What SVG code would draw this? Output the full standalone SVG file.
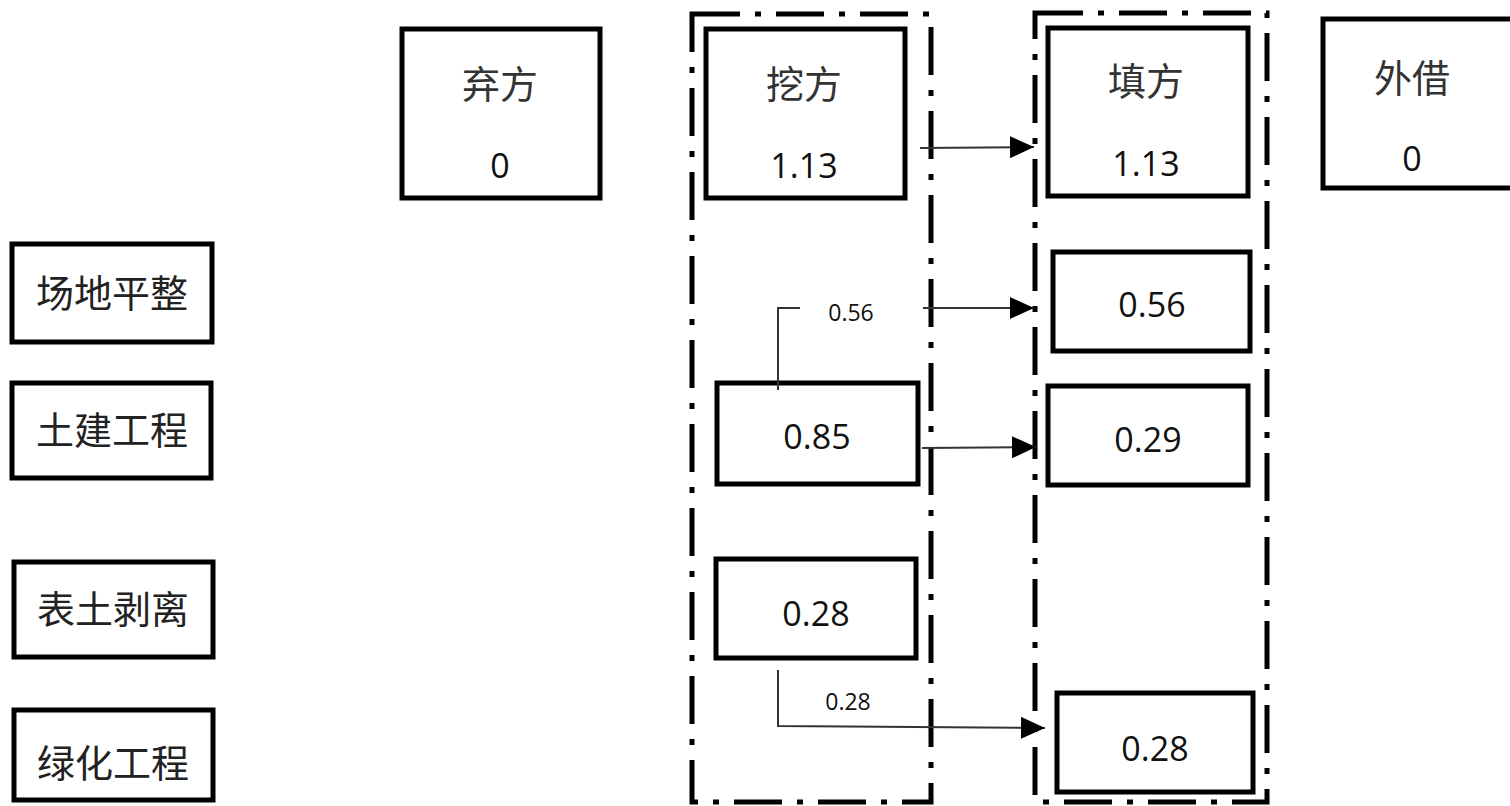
<svg xmlns="http://www.w3.org/2000/svg" width="1510" height="806" viewBox="0 0 1510 806">
<style>
.box{fill:#fff;stroke:#000;stroke-width:5}
.grp{fill:none;stroke:#000;stroke-width:5;stroke-dasharray:48 15 6 15}
.cn{font-family:"Noto Sans CJK SC","Noto Sans",sans-serif;font-size:38px;fill:#222;text-anchor:middle}
.cns{font-family:"Noto Sans CJK SC",sans-serif;font-size:38px;fill:#333;text-anchor:middle}
.num{font-family:"Open Sans","Liberation Sans",sans-serif;font-size:34px;fill:#111;text-anchor:middle}
.lbl{font-family:"Open Sans","Liberation Sans",sans-serif;font-size:23px;fill:#111;text-anchor:middle}
.ln{fill:none;stroke:#333;stroke-width:2}
</style>
<defs>
<marker id="a" markerWidth="24" markerHeight="22" refX="24" refY="11" orient="auto" markerUnits="userSpaceOnUse" viewBox="0 0 24 22">
<path d="M0,0 L24,11 L0,22 z" fill="#000"/>
</marker>
</defs>
<g id="group-cut"><rect class="grp" x="692" y="14" width="239" height="788"/></g>
<g id="group-fill"><rect class="grp" x="1035" y="13" width="232" height="789"/></g>
<g id="n-changdi"><rect class="box" x="12" y="244" width="200" height="98"/><text class="cn" x="112" y="307">场地平整</text></g>
<g id="n-tujian"><rect class="box" x="12" y="383" width="199" height="95"/><text class="cn" x="112" y="444">土建工程</text></g>
<g id="n-biaotu"><rect class="box" x="14" y="562" width="199" height="95"/><text class="cn" x="113" y="623">表土剥离</text></g>
<g id="n-lvhua"><rect class="box" x="14" y="710" width="199" height="90"/><text class="cn" x="113" y="777">绿化工程</text></g>
<g id="n-qifang"><rect class="box" x="402" y="29" width="198" height="169"/><text class="cns" x="500" y="98">弃方</text><text class="num" x="500" y="178">0</text></g>
<g id="n-wafang"><rect class="box" x="706" y="29" width="199" height="169"/><text class="cns" x="804" y="98">挖方</text><text class="num" x="804" y="178">1.13</text></g>
<g id="n-tianfang"><rect class="box" x="1048" y="28" width="200" height="168"/><text class="cns" x="1146" y="95">填方</text><text class="num" x="1146" y="176">1.13</text></g>
<g id="n-waijie"><rect class="box" x="1323" y="19" width="195" height="169"/><text class="cns" x="1412" y="92">外借</text><text class="num" x="1412" y="171">0</text></g>
<g id="n-085"><rect class="box" x="717" y="383" width="201" height="101"/><text class="num" x="817" y="449">0.85</text></g>
<g id="n-028a"><rect class="box" x="716" y="559" width="200" height="99"/><text class="num" x="816" y="626">0.28</text></g>
<g id="n-056"><rect class="box" x="1053" y="252" width="197" height="99"/><text class="num" x="1152" y="317">0.56</text></g>
<g id="n-029"><rect class="box" x="1048" y="386" width="200" height="99"/><text class="num" x="1148" y="452">0.29</text></g>
<g id="n-028b"><rect class="box" x="1057" y="693" width="196" height="99"/><text class="num" x="1155" y="761">0.28</text></g>
<g id="connectors">
<line class="ln" x1="920" y1="148" x2="1034" y2="147" marker-end="url(#a)"/>
<polyline class="ln" points="778,390 778,308 800,308"/>
<text class="lbl" x="851" y="321">0.56</text>
<line class="ln" x1="923" y1="308" x2="1034" y2="308" marker-end="url(#a)"/>
<line class="ln" x1="922" y1="448" x2="1036" y2="447" marker-end="url(#a)"/>
<polyline class="ln" points="778,670 778,726 1045,728" marker-end="url(#a)"/>
<text class="lbl" x="848" y="710">0.28</text>
</g>
</svg>
